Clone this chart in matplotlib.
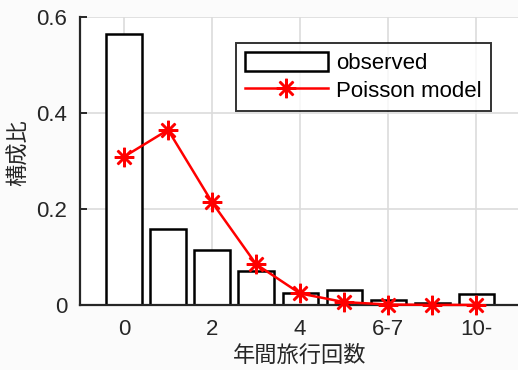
import matplotlib.pyplot as plt
from matplotlib.lines import Line2D
from matplotlib.patches import Patch

plt.rcParams['font.family'] = ['Liberation Sans', 'Noto Sans CJK JP', 'DejaVu Sans']

# data
positions = [0, 1, 2, 3, 4, 5, 6, 7, 8]
observed = [0.565, 0.158, 0.115, 0.071, 0.024, 0.031, 0.011, 0.004, 0.023]
poisson = [0.309, 0.365, 0.214, 0.085, 0.024, 0.006, 0.001, 0.0003, 0.0001]
tick_pos = [0, 2, 4, 6, 8]
tick_labels = ['0', '2', '4', '6-7', '10-']
y_ticks = [0, 0.2, 0.4, 0.6]
y_tick_labels = ['0', '0.2', '0.4', '0.6']

FS = 16

fig = plt.figure(figsize=(5.18, 3.70), dpi=100)
fig.patch.set_facecolor('#fbfbfb')
ax = fig.add_axes([0.1544, 0.1757, 0.85, 0.778])
ax.set_facecolor('white')

ax.bar(positions, observed, width=0.8, facecolor='white', edgecolor='black',
       linewidth=1.8, zorder=2)
ax.plot(positions, poisson, color='red', linewidth=1.8, marker=(8, 2, 0),
        markersize=14, markeredgewidth=1.8, zorder=3, clip_on=False)

ax.set_xlim(-1, 9)
ax.set_ylim(0, 0.6)
ax.set_xticks(tick_pos)
ax.set_xticklabels(tick_labels)
ax.set_yticks(y_ticks)
ax.set_yticklabels(y_tick_labels)
ax.tick_params(direction='in', labelsize=FS, colors='#262626', length=5,
               width=1.4, pad=9)
ax.tick_params(axis='x', length=0, pad=10)
ax.grid(True, color='#dcdcdc', linewidth=1.2, zorder=0)
ax.set_axisbelow(True)
for s in ['top', 'right']:
    ax.spines[s].set_visible(False)
for s in ['left', 'bottom']:
    ax.spines[s].set_color('#262626')
    ax.spines[s].set_linewidth(1.6)

ax.set_xlabel('年間旅行回数', fontsize=FS, color='#262626', labelpad=4)
ax.set_ylabel('構成比', fontsize=FS, color='#262626')
ax.yaxis.set_label_coords(-0.113, 0.53)

handles = [Patch(facecolor='white', edgecolor='black', linewidth=1.8),
           Line2D([], [], color='red', linewidth=1.8, marker=(8, 2, 0),
                  markersize=14, markeredgewidth=1.8)]
leg = fig.legend(handles, ['observed', 'Poisson model'], loc='upper left',
                 bbox_to_anchor=(236 / 518, 1 - 43 / 370), fontsize=FS,
                 frameon=True, fancybox=False, edgecolor='black',
                 handlelength=3.7, handleheight=0.9, borderpad=0.42,
                 labelspacing=0.25, handletextpad=0.4, borderaxespad=0)
leg.get_frame().set_linewidth(1.4)

fig.savefig('out.png', dpi=100, facecolor=fig.get_facecolor())
